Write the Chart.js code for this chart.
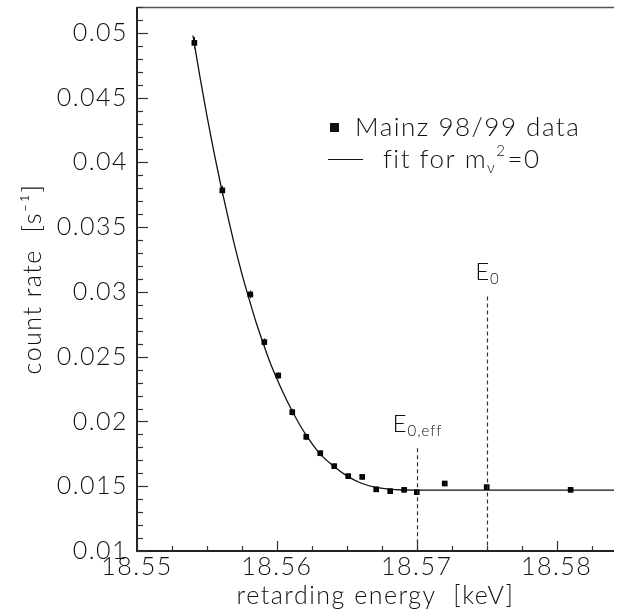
<!DOCTYPE html>
<html>
<head>
<meta charset="utf-8">
<script src="https://cdn.jsdelivr.net/npm/chart.js@4.4.0/dist/chart.umd.min.js"></script>
<style>
  html, body { margin: 0; padding: 0; background: #fff; overflow: hidden; }
  #wrap { width: 618px; height: 612px; }
  canvas { display: block; }
</style>
</head>
<body>
<div id="wrap"><canvas id="spec" width="618" height="612"></canvas></div>
<script>
// measured points (retarding energy in keV, count rate in 1/s)
const energy = [18.5541, 18.5561, 18.5581, 18.5591, 18.5601, 18.5611, 18.5621, 18.5631, 18.5641,
                18.5651, 18.5661, 18.5671, 18.5681, 18.5691, 18.5700, 18.5720, 18.5750, 18.5810];
const rate = [0.04923, 0.03784, 0.02981, 0.02613, 0.02355, 0.02072, 0.01881, 0.01755, 0.01655,
              0.01578, 0.01572, 0.01476, 0.01462, 0.01472, 0.01454, 0.01521, 0.01493, 0.01472];
const rateErr = [0.00045, 0.00035, 0.0003, 0.00028, 0.00026, 0.00025, 0.00024, 0.00023, 0.00022,
                 0.00022, 0.00021, 0.0002, 0.0002, 0.0002, 0.0002, 0.0002, 0.0002, 0.0002];

// fit curve
const fitEnergy = [18.5540, 18.5545, 18.5550, 18.5555, 18.5560, 18.5565, 18.5570, 18.5575, 18.5580,
                   18.5585, 18.5590, 18.5595, 18.5600, 18.5605, 18.5610, 18.5615, 18.5620, 18.5630,
                   18.5640, 18.5650, 18.5660, 18.5670, 18.5680, 18.5690, 18.5700, 18.5841];
const fitRate = [0.0498, 0.0466, 0.0436, 0.0408, 0.0382, 0.0358, 0.0335, 0.0314, 0.0295,
                 0.0277, 0.0261, 0.0246, 0.0233, 0.0221, 0.0210, 0.0200, 0.0191, 0.0176,
                 0.0166, 0.0158, 0.01525, 0.01493, 0.01477, 0.01471, 0.0147, 0.0147];

const xTicks = [18.55, 18.56, 18.57, 18.58];
const xTickLabels = ['18.55', '18.56', '18.57', '18.58'];
const yTicks = [0.01, 0.015, 0.02, 0.025, 0.03, 0.035, 0.04, 0.045, 0.05];
const yTickLabels = ['0.01', '0.015', '0.02', '0.025', '0.03', '0.035', '0.04', '0.045', '0.05'];

// endpoint markers: energy and the rate where the dashed line starts
const endpoints = [
  { main: 'E', sub: '0,eff', energy: 18.570, top: 0.01794 },
  { main: 'E', sub: '0', energy: 18.575, top: 0.02965 }
];

const FONT = "'Lato', 'DejaVu Sans', sans-serif";
const INK = '#111';

// draw text made of several pieces (sub/superscripts), returns width
function richText(ctx, pieces, x, y, measureOnly) {
  let cx = x;
  pieces.forEach(p => {
    ctx.font = '300 ' + p.size + 'px ' + FONT;
    const w = ctx.measureText(p.t).width;
    if (!measureOnly) ctx.fillText(p.t, cx, y + (p.dy || 0));
    cx += w + (p.gap || 0);
  });
  return cx - x;
}

const spacing = {
  id: 'spacing',
  beforeDraw(chart) {
    chart.ctx.letterSpacing = '1.5px';
  }
};

const decor = {
  id: 'decor',
  afterDatasetsDraw(chart) {
    const ctx = chart.ctx;
    const xs = chart.scales.x, ys = chart.scales.y;
    const a = chart.chartArea;
    ctx.save();

    // error bars
    ctx.strokeStyle = INK;
    ctx.lineWidth = 1;
    energy.forEach((e, i) => {
      const px = Math.round(xs.getPixelForValue(e)) + 0.5;
      ctx.beginPath();
      ctx.moveTo(px, ys.getPixelForValue(rate[i] - rateErr[i]));
      ctx.lineTo(px, ys.getPixelForValue(rate[i] + rateErr[i]));
      ctx.stroke();
    });

    // frame
    ctx.strokeStyle = '#555';
    ctx.lineWidth = 1.5;
    ctx.beginPath();
    ctx.moveTo(a.left, a.top + 0.5);
    ctx.lineTo(a.right, a.top + 0.5);
    ctx.stroke();
    ctx.strokeStyle = '#222';
    ctx.lineWidth = 2;
    ctx.beginPath();
    ctx.moveTo(a.left, a.top);
    ctx.lineTo(a.left, a.bottom);
    ctx.lineTo(a.right, a.bottom);
    ctx.stroke();

    // inward ticks
    ctx.lineWidth = 1.2;
    ctx.strokeStyle = '#333';
    for (let k = 0; k <= 42; k++) {
      const v = 0.01 + k * 0.001;
      const py = Math.round(ys.getPixelForValue(v)) + 0.5;
      if (py < a.top) break;
      const len = (k % 5 === 0) ? 11 : 6;
      ctx.beginPath();
      ctx.moveTo(a.left, py);
      ctx.lineTo(a.left + len, py);
      ctx.stroke();
    }
    for (let k = 0; k <= 14; k++) {
      const v = 18.55 + k * 0.0025;
      const px = Math.round(xs.getPixelForValue(v)) + 0.5;
      if (px > a.right) break;
      const len = (k % 4 === 0) ? 10 : 5;
      ctx.beginPath();
      ctx.moveTo(px, a.bottom);
      ctx.lineTo(px, a.bottom - len);
      ctx.stroke();
    }

    // endpoint dashed lines and labels
    ctx.setLineDash([4, 3]);
    ctx.lineWidth = 1.2;
    ctx.strokeStyle = '#333';
    ctx.fillStyle = INK;
    ctx.textBaseline = 'alphabetic';
    ctx.textAlign = 'left';
    ctx.letterSpacing = '1px';
    endpoints.forEach(ep => {
      const px = Math.round(xs.getPixelForValue(ep.energy)) + 0.5;
      const top = ys.getPixelForValue(ep.top);
      ctx.beginPath();
      ctx.moveTo(px, top);
      ctx.lineTo(px, a.bottom);
      ctx.stroke();
      const pieces = [{ t: ep.main, size: 24, gap: 0 }, { t: ep.sub, size: 15, dy: 4 }];
      const w = richText(ctx, pieces, 0, 0, true);
      richText(ctx, pieces, px - w / 2, top - 16);
    });
    ctx.setLineDash([]);

    // legend
    ctx.letterSpacing = '1.5px';
    ctx.fillStyle = INK;
    ctx.fillRect(330, 123, 9, 9);
    ctx.textBaseline = 'middle';
    richText(ctx, [{ t: 'Mainz 98/99 data', size: 26 }], 355, 128);
    ctx.strokeStyle = INK;
    ctx.lineWidth = 1.2;
    ctx.beginPath();
    ctx.moveTo(328, 159.5);
    ctx.lineTo(363, 159.5);
    ctx.stroke();
    richText(ctx, [
      { t: 'fit for m', size: 26, gap: 0 },
      { t: '\u03bd', size: 15, dy: 8 },
      { t: '2', size: 15, dy: -9, gap: 1 },
      { t: '=0', size: 26 }
    ], 383, 160);

    ctx.restore();
  }
};

const ctx = document.getElementById('spec').getContext('2d');

new Chart(ctx, {
  type: 'scatter',
  data: {
    datasets: [
      {
        label: 'Mainz 98/99 data',
        data: energy.map((e, i) => ({ x: e, y: rate[i] })),
        pointStyle: 'rect',
        pointRadius: 4,
        pointBackgroundColor: '#000',
        pointBorderWidth: 0,
        order: 0
      },
      {
        label: 'fit',
        type: 'line',
        data: fitEnergy.map((e, i) => ({ x: e, y: fitRate[i] })),
        borderColor: '#111',
        borderWidth: 1.3,
        pointRadius: 0,
        cubicInterpolationMode: 'monotone',
        fill: false,
        order: 1
      }
    ]
  },
  options: {
    responsive: false,
    animation: false,
    devicePixelRatio: 1,
    layout: { padding: { top: 7, right: -4, left: 0, bottom: 0 } },
    plugins: {
      legend: { display: false },
      tooltip: { enabled: false }
    },
    scales: {
      x: {
        type: 'linear',
        min: 18.55,
        max: 18.5841,
        afterBuildTicks: s => { s.ticks = xTicks.map(v => ({ value: v })); },
        afterFit: s => { s.height = 61; s.paddingLeft = 0; s.paddingRight = 0; },
        grid: { display: false, drawTicks: false },
        border: { display: false },
        ticks: {
          padding: 1,
          color: INK,
          font: { family: FONT, size: 25, weight: '300' },
          maxRotation: 0,
          callback: (v, i) => xTickLabels[i]
        },
        title: {
          display: true,
          text: 'retarding energy  [keV]',
          color: INK,
          font: { family: FONT, size: 25, weight: '300' },
          padding: { top: 0, bottom: 1 }
        }
      },
      y: {
        type: 'linear',
        min: 0.01,
        max: 0.052,
        afterBuildTicks: s => { s.ticks = yTicks.map(v => ({ value: v })); },
        afterFit: s => { s.width = 137; s.paddingTop = 0; s.paddingBottom = 0; },
        grid: { display: false, drawTicks: false },
        border: { display: false },
        ticks: {
          padding: 9,
          color: INK,
          font: { family: FONT, size: 25, weight: '300' },
          callback: (v, i) => yTickLabels[i]
        },
        title: {
          display: true,
          text: 'count rate  [s\u207b\u00b9]',
          color: INK,
          font: { family: FONT, size: 25, weight: '300' },
          padding: { top: 18, bottom: 0 }
        }
      }
    }
  },
  plugins: [spacing, decor]
});
</script>
</body>
</html>
